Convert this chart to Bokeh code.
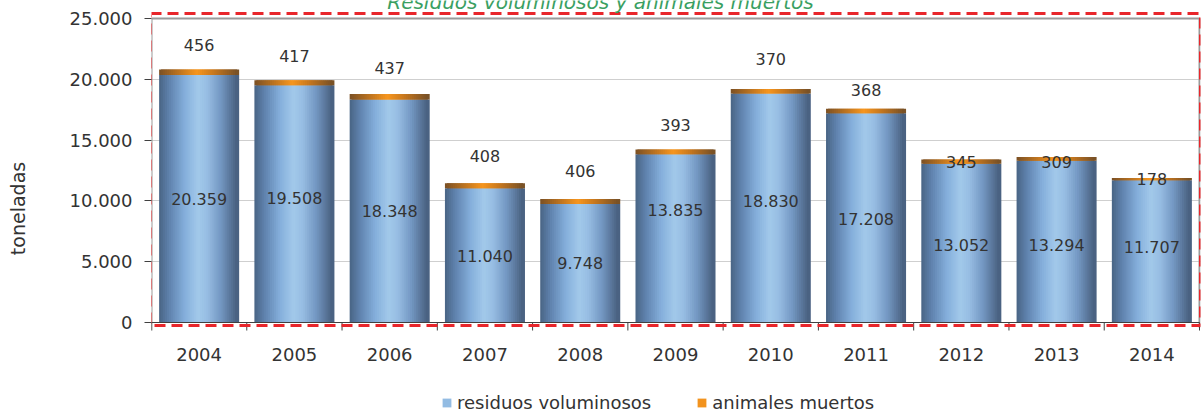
from bokeh.plotting import figure
from bokeh.models import (ColumnDataSource, FixedTicker, Label, LabelSet,
                          Legend, LegendItem)
from bokeh.core.properties import value
from bokeh.embed import file_html
from bokeh.resources import INLINE

# ---------------- data ----------------
years = ["2004", "2005", "2006", "2007", "2008", "2009", "2010", "2011", "2012", "2013", "2014"]
residuos = [20359, 19508, 18348, 11040, 9748, 13835, 18830, 17208, 13052, 13294, 11707]
animales = [456, 417, 437, 408, 406, 393, 370, 368, 345, 309, 178]
series_names = ["residuos voluminosos", "animales muertos"]
y_ticks = [0, 5000, 10000, 15000, 20000, 25000]
y_tick_labels = ["0", "5.000", "10.000", "15.000", "20.000", "25.000"]
title_text = "Residuos voluminosos y animales muertos"
y_title = "toneladas"

# label anchor heights (tonnes) as placed in the original chart
residuos_label_at = [10180, 10200, 9130, 5500, 4930, 9290, 10030, 8550, 6410, 6410, 6250]
animales_label_at = [22780, 21880, 20970, 13730, 12420, 16280, 21630, 19160, 13160, 13240, 11840]

# ---------------- layout helpers (pixels of the 1203x416 canvas) ----------------
W, H = 1203, 416
FRAME_L, FRAME_R = 151, 1200
Y0_PX, YTOP_PX = 322, 18                    # where 0 and 25.000 sit
K = (Y0_PX - YTOP_PX) / y_ticks[-1]         # px per tonne
NCAT = len(years)
X_LO = -0.5
X_HI = X_LO + NCAT * (FRAME_R - FRAME_L) / (FRAME_R - FRAME_L - 1)
KX = (FRAME_R - FRAME_L) / (X_HI - X_LO)    # px per category


def y_at(py):
    return (Y0_PX - py) / K


def x_at(px):
    return X_LO + (px - FRAME_L) / KX


FONT = "DejaVu Sans"
TXT = "#333333"


def fmt(v):
    return f"{v:,}".replace(",", ".")


def hex2rgb(h):
    h = h.lstrip("#")
    return [int(h[i:i + 2], 16) for i in (0, 2, 4)]


def grad(stops, t):
    for (p0, c0), (p1, c1) in zip(stops[:-1], stops[1:]):
        if t <= p1:
            f = (t - p0) / (p1 - p0)
            a, b = hex2rgb(c0), hex2rgb(c1)
            return "#%02x%02x%02x" % tuple(int(round(a[j] + (b[j] - a[j]) * f)) for j in range(3))
    return stops[-1][1]


blue_stops = [(0.0, "#4b6788"), (0.12, "#5f82ad"), (0.32, "#84aedb"), (0.5, "#a2c9ea"),
              (0.62, "#97bde3"), (0.8, "#7397c2"), (1.0, "#4a6282")]
orange_stops = [(0.0, "#7e5224"), (0.28, "#c47820"), (0.48, "#f7961e"), (0.7, "#c8781e"),
                (1.0, "#7a5226")]

N = 40
BW = 0.84
SW = 2 * BW / N


def strips(bottoms, tops, stops):
    d = dict(x=[], bottom=[], top=[], c=[])
    for i in range(NCAT):
        for k in range(N):
            t = k / (N - 1)
            d["x"].append(i - BW / 2 + SW / 2 + t * (BW - SW))
            d["bottom"].append(bottoms[i])
            d["top"].append(tops[i])
            d["c"].append(grad(stops, t))
    return ColumnDataSource(d)


totals = [r + a for r, a in zip(residuos, animales)]
src_r = strips([0] * NCAT, residuos, blue_stops)
src_a = strips(residuos, totals, orange_stops)

p = figure(width=W, height=H, output_backend="svg", toolbar_location=None,
           x_range=(X_LO, X_HI), y_range=(y_at(H), y_at(0)),
           x_axis_location=None,
           min_border_left=FRAME_L, min_border_right=W - FRAME_R,
           min_border_top=0, min_border_bottom=0,
           background_fill_color="white", border_fill_color="white")
p.outline_line_color = None

# grid
p.xgrid.visible = False
p.ygrid.ticker = FixedTicker(ticks=y_ticks[1:-1])
p.ygrid.grid_line_color = "#cfcfcf"
p.ygrid.grid_line_width = 1

rb = p.vbar(x="x", width=SW, bottom="bottom", top="top", fill_color="c", line_color=None, source=src_r)
ra = p.vbar(x="x", width=SW, bottom="bottom", top="top", fill_color="c", line_color=None, source=src_a)

# plot-area frame lines (gray) and base line
edge_l, edge_r = X_LO, NCAT - 0.5
p.segment(x0=[edge_l, edge_l, edge_r], x1=[edge_r, edge_l, edge_r],
          y0=[y_ticks[-1], y_at(330), y_at(327)], y1=[y_ticks[-1], y_ticks[-1], y_ticks[-1]],
          line_color="#9a9a9a", line_width=2)
p.segment(x0=[edge_l], x1=[edge_r], y0=[0], y1=[0], line_color="#404040", line_width=1)

# category boundary ticks
bounds_x = [i - 0.5 for i in range(NCAT + 1)]
p.segment(x0=bounds_x, x1=bounds_x, y0=[0] * len(bounds_x), y1=[y_at(330)] * len(bounds_x),
          line_color="#404040", line_width=1)

# category labels
p.add_layout(LabelSet(x="x", y="y", text="t",
                      source=ColumnDataSource(dict(x=list(range(NCAT)), y=[y_at(354)] * NCAT, t=years)),
                      text_align="center", text_baseline="middle", text_font=value(FONT),
                      text_font_size="18px", text_color=TXT))

# red dashed box
p.quad(left=[x_at(150)], right=[x_at(1200)], top=[y_at(13)], bottom=[y_at(325)],
       fill_color=None, line_color="#e8262b", line_width=3, line_dash="11 6")

# y axis
ya = p.yaxis[0]
ya.ticker = FixedTicker(ticks=y_ticks)
ya.major_label_overrides = {t: l for t, l in zip(y_ticks, y_tick_labels)}
ya.axis_line_color = None
ya.major_tick_line_color = "#404040"
ya.major_tick_out = 7
ya.major_tick_in = 0
ya.minor_tick_out = 0
ya.minor_tick_in = 0
ya.major_label_standoff = 12
ya.major_label_text_font = FONT
ya.major_label_text_font_size = "18px"
ya.major_label_text_color = TXT
ya.axis_label = y_title
ya.axis_label_text_font = FONT
ya.axis_label_text_font_size = "19px"
ya.axis_label_text_font_style = "normal"
ya.axis_label_text_color = TXT
ya.axis_label_standoff = 38

# value labels
lab_r = ColumnDataSource(dict(x=list(range(NCAT)), y=residuos_label_at,
                              t=[fmt(v) for v in residuos]))
lab_a = ColumnDataSource(dict(x=list(range(NCAT)), y=animales_label_at,
                              t=[fmt(v) for v in animales]))
for s in (lab_r, lab_a):
    p.add_layout(LabelSet(x="x", y="y", text="t", source=s, text_align="center",
                          text_baseline="middle", text_font=value(FONT),
                          text_font_size="16px", text_color=TXT))

# title (partially cut at the top as in the original)
p.add_layout(Label(x=x_at(600), y=y_at(1), text=title_text, text_align="center",
                   text_baseline="alphabetic", text_font=FONT,
                   text_font_size="20px", text_font_style="italic", text_color="#3a9f62"))

# legend
legend = Legend(items=[LegendItem(label=series_names[0], renderers=[rb], index=int(N * 0.4)),
                       LegendItem(label=series_names[1], renderers=[ra], index=int(N * 0.45))],
                orientation="horizontal", location=(441 - FRAME_L, 3),
                border_line_color=None, background_fill_alpha=0,
                padding=0, margin=0, spacing=45,
                glyph_width=11, glyph_height=11, label_standoff=5, label_height=20,
                label_text_font=FONT, label_text_font_size="18px", label_text_color=TXT)
p.add_layout(legend)

open("out.html", "w").write(file_html(p, INLINE))
